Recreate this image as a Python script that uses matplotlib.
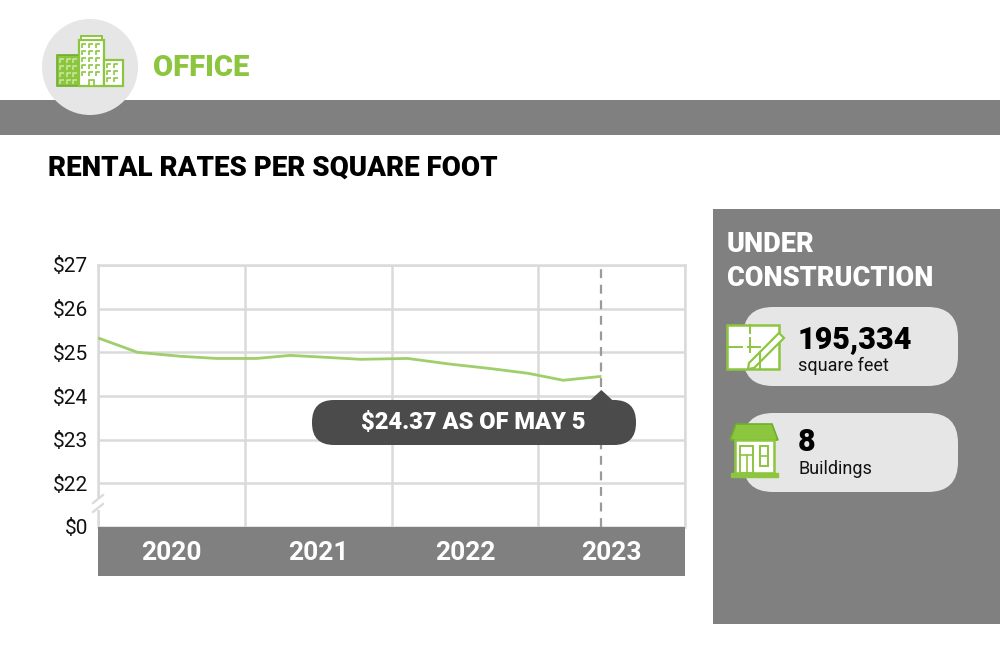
import matplotlib
matplotlib.use("Agg")
from matplotlib import pyplot as plt
from matplotlib.patches import Circle, Rectangle, FancyBboxPatch, Polygon

# --- donnees ---
dates = [2020.0, 2020.27, 2020.56, 2020.81, 2021.0, 2021.08, 2021.31, 2021.53,
         2021.79, 2022.11, 2022.40, 2022.67, 2022.93, 2023.17, 2023.43]
loyers = [25.33, 25.00, 24.91, 24.86, 24.86, 24.86, 24.93, 24.89,
          24.84, 24.86, 24.73, 24.63, 24.52, 24.36, 24.45]
annees = [2020, 2021, 2022, 2023]
y_valeurs = [0, 22, 23, 24, 25, 26, 27]
y_labels = ["$" + str(v) for v in y_valeurs]
dernier = "$24.37 AS OF MAY 5"
sq_feet = "195,334"
batiments = "8"

VERT = "#8cc63f"
VERT_LIGNE = "#9fce6a"
GRIS = "#808080"
GRIS_CLAIR = "#e6e6e6"
GRILLE = "#dadada"
FONT = "Roboto"

plt.rcParams['font.family'] = [FONT, 'DejaVu Sans']

fig = plt.figure(figsize=(10, 6.66), dpi=100)
W, H = 1000, 666

def pos(x0, y0, x1, y1):
    # pixels (haut gauche) -> fraction de figure
    return [x0 / W, 1 - y1 / H, (x1 - x0) / W, (y1 - y0) / H]

# --- graphique ---
ax = fig.add_axes(pos(98, 265, 685, 527))
plancher = 21  # la graduation $0 est placee juste sous $22 (axe coupe)
ypos = [v if v >= 22 else plancher for v in y_valeurs]
ax.plot(dates, loyers, color=VERT_LIGNE, lw=2, solid_capstyle='butt', zorder=3)
ax.set_xlim(annees[0], annees[-1] + 1)
ax.set_ylim(plancher, 27)
ax.set_xticks(annees + [annees[-1] + 1])
ax.set_xticklabels([])
ax.set_yticks(ypos)
ax.set_yticklabels(y_labels, fontsize=15, color="#111111")
ax.tick_params(length=0, pad=7)
ax.grid(True, color=GRILLE, lw=1.8)
for s in ["top", "left", "right"]:
    ax.spines[s].set_color(GRILLE)
    ax.spines[s].set_linewidth(1.8)
ax.spines["bottom"].set_visible(False)
ax.axvline(dates[-1], color="#9a9a9a", lw=1.6, ls=(0, (4, 3)), zorder=2)

# bande des annees
axb = fig.add_axes(pos(98, 527, 685, 576))
axb.set_facecolor(GRIS)
axb.set_xlim(annees[0], annees[-1] + 1)
axb.set_ylim(0, 1)
for a in annees:
    axb.text(a + 0.5, 0.47, str(a), ha="center", va="center", color="white",
             fontsize=19, fontweight="bold")
axb.set_xticks([])
axb.set_yticks([])
for s in axb.spines.values():
    s.set_visible(False)

# --- calque en pixels pour le reste ---
ov = fig.add_axes([0, 0, 1, 1], zorder=10)
ov.set_xlim(0, W)
ov.set_ylim(H, 0)
ov.axis("off")
ov.patch.set_alpha(0)

# bandeau du haut + cercle
ov.add_patch(Rectangle((0, 100), W, 35, color=GRIS, lw=0))
ov.add_patch(Circle((90, 67), 48, color=GRIS_CLAIR, lw=0))

# icone bureau
def fenetres(x0, y0, nx, ny, dx, dy, couleur):
    for i in range(nx):
        for j in range(ny):
            x = x0 + i * dx
            y = y0 + j * dy
            ov.plot([x, x, x + 4], [y + 4, y, y], color=couleur, lw=1.2,
                    solid_capstyle='butt')

ov.add_patch(Rectangle((57, 55), 22, 31, facecolor=VERT, edgecolor="#6fae2b", lw=1.2))
fenetres(60, 59, 3, 4, 6.5, 7, "#c8e6a0")
ov.add_patch(Rectangle((79, 40), 25, 46, facecolor="white", edgecolor=VERT, lw=1.6))
ov.add_patch(Rectangle((81, 36), 21, 4, facecolor="white", edgecolor=VERT, lw=1.4))
fenetres(82, 44, 3, 5, 7, 7, VERT)
ov.add_patch(Rectangle((89, 80), 5, 6, facecolor="white", edgecolor=VERT, lw=1.2))
ov.add_patch(Rectangle((104, 60), 19, 26, facecolor="white", edgecolor=VERT, lw=1.6))
fenetres(107, 64, 2, 3, 7, 7, VERT)

ov.text(153, 68, "OFFICE", color=VERT, fontsize=21, fontweight="black",
        va="center", ha="left")

ov.text(48, 168, "RENTAL RATES PER SQUARE FOOT", color="black", fontsize=20,
        fontweight="black", va="center", ha="left")

# coupure de l'axe
ov.add_patch(Rectangle((94, 498), 8, 12, color="white", lw=0))
ov.plot([93, 103], [503, 495], color=GRILLE, lw=1.6)
ov.plot([93, 103], [512, 504], color=GRILLE, lw=1.6)

# bulle de la derniere valeur
tip_x, _ = ov.transData.inverted().transform(ax.transData.transform((dates[-1], loyers[-1])))
ov.add_patch(FancyBboxPatch((312, 400), 324, 45, boxstyle="round,pad=0,rounding_size=22",
                            facecolor="#4b4b4b", edgecolor="none"))
ov.add_patch(Polygon([[tip_x - 12, 401], [tip_x, 390], [tip_x + 12, 401]],
                     closed=True, facecolor="#4b4b4b", edgecolor="none"))
ov.text(473, 423, dernier, color="white", fontsize=17, fontweight="black",
        ha="center", va="center")

# panneau droit
ov.add_patch(Rectangle((713, 209), W - 713, 415, color=GRIS, lw=0))
ov.text(727, 245, "UNDER", color="white", fontsize=19.5, fontweight="black", va="center")
ov.text(727, 278, "CONSTRUCTION", color="white", fontsize=19.5, fontweight="black",
        va="center")
for y0 in [307, 413]:
    ov.add_patch(FancyBboxPatch((743, y0), 215, 79, boxstyle="round,pad=0,rounding_size=30",
                                facecolor=GRIS_CLAIR, edgecolor="none"))

# icone plan
ov.add_patch(Rectangle((727, 325), 52, 44, facecolor="white", edgecolor=VERT, lw=1.8))
ov.plot([750, 750], [325, 333], color=VERT, lw=1.4)
ov.plot([750, 750], [338, 352], color=VERT, lw=1.4)
ov.plot([727, 742], [347, 347], color=VERT, lw=1.4)
ov.plot([748, 760], [347, 347], color=VERT, lw=1.4)
ov.plot([760, 760], [352, 369], color=VERT, lw=1.4)
ov.add_patch(Polygon([[779, 333], [784, 338], [754, 368], [748, 369], [749, 363]],
                     closed=True, facecolor="white", edgecolor=VERT, lw=1.6))
ov.text(798, 339, sq_feet, color="black", fontsize=22, fontweight="black", va="center")
ov.text(798, 366, "square feet", color="#111111", fontsize=13, va="center")

# icone maison
ov.add_patch(Polygon([[736, 424], [772, 424], [778, 440], [730, 440]], closed=True,
                     facecolor=VERT, edgecolor="#6fae2b", lw=1.2))
ov.add_patch(Rectangle((735, 440), 39, 33, facecolor="white", edgecolor=VERT, lw=1.8))
ov.add_patch(Rectangle((731, 473), 47, 4, facecolor=VERT, edgecolor=VERT, lw=1))
ov.add_patch(Rectangle((740, 446), 13, 27, facecolor="white", edgecolor=VERT, lw=1.4))
ov.plot([740, 753], [455, 455], color=VERT, lw=1.2)
ov.plot([746.5, 746.5], [455, 473], color=VERT, lw=1.2)
ov.add_patch(Rectangle((760, 446), 8, 20, facecolor="white", edgecolor=VERT, lw=1.4))
ov.plot([760, 768], [456, 456], color=VERT, lw=1.2)
ov.text(798, 442, batiments, color="black", fontsize=22, fontweight="black", va="center")
ov.text(798, 469, "Buildings", color="#111111", fontsize=13, va="center")

fig.savefig("out.png", dpi=100)
